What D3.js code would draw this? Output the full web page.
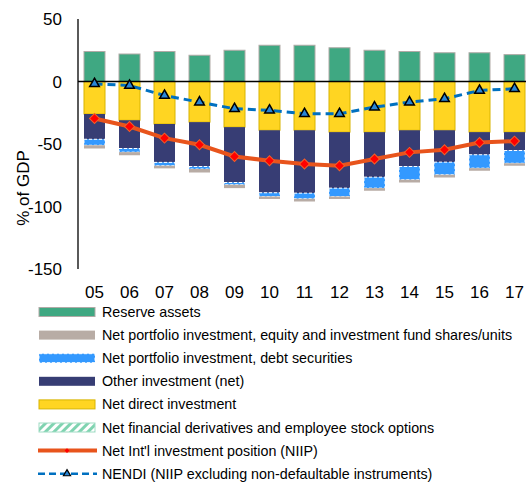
<!DOCTYPE html>
<html>
<head>
<meta charset="utf-8">
<script src="https://cdn.jsdelivr.net/npm/d3@7"></script>
<style>
  body { margin: 0; background: #fff; }
  svg { font-family: "Liberation Sans", Arial, sans-serif; }
</style>
</head>
<body>
<svg id="chart" width="526" height="486"></svg>
<script>
// years and series (% of GDP)
var years = ["05","06","07","08","09","10","11","12","13","14","15","16","17"];
var reserve = [24, 22, 24, 21, 25, 29, 29, 27, 25, 24, 23, 23, 21.5];
var direct  = [-26, -31, -34, -32.5, -36.5, -39, -39, -40.5, -40.5, -39, -39, -40.5, -40.5];
var other   = [-20.2, -22.6, -30.7, -35.5, -44.3, -50, -50.3, -44.8, -36, -29, -25.5, -18.1, -14.7];
var debt    = [-4.8, -2.9, -2.7, -2, -1.8, -3, -4.5, -6.7, -8.8, -10.6, -10.1, -10.7, -10.2];
var equity  = [-2.6, -2.5, -2.1, -2.8, -2.7, -2, -2.2, -2, -2.1, -2.2, -2.2, -2.1, -2];
var deriv   = [0, 0, 0, 0, 0, 0, 0, 0, 0, 0, 0, 0, 0];
var niip    = [-29.6, -36, -45.3, -50.6, -60, -63.4, -66, -67.4, -62, -56.7, -54.6, -48.8, -47.7];
var nendi   = [-1.8, -3.2, -11.2, -16.5, -21.8, -23, -25.8, -25.8, -20.5, -16.5, -13.8, -7.2, -5.8];
var yTicks  = [50, 0, -50, -100, -150];

var svg = d3.select('#chart');

var x = d3.scaleBand()
	.domain(years)
	.range([77, 532])
	.paddingInner(0.4)
	.paddingOuter(0.2);

var y = d3.scaleLinear()
	.domain([-150, 50])
	.range([269, 19]);

// build rows for the stack
var rows = years.map(function(yr, i){
	return {year: yr, reserve: reserve[i], direct: direct[i], other: other[i],
		debt: debt[i], equity: equity[i], deriv: deriv[i]};
});
var keys = ["reserve", "direct", "other", "debt", "equity", "deriv"];
var series = d3.stack().keys(keys).offset(d3.stackOffsetDiverging)(rows);

var fills = {reserve: "#3fa882", direct: "#ffd522", other: "#373d74", debt: "#3399ff", equity: "#b8aca5", deriv: "#8fdcbc"};
var strokes = {reserve: "#b0aaa6", direct: "#d8b400", other: "none", debt: "#ffffff", equity: "none", deriv: "none"};

// hatch pattern for derivatives
var defs = svg.append('defs');
var pat = defs.append('pattern')
	.attr('id', 'hatch')
	.attr('patternUnits', 'userSpaceOnUse')
	.attr('width', 6).attr('height', 6)
	.attr('patternTransform', 'rotate(45)');
pat.append('rect').attr('width', 6).attr('height', 6).attr('fill', '#ffffff');
pat.append('rect').attr('width', 3).attr('height', 6).attr('fill', '#7fd3b0');

// bars
svg.append('g').selectAll('g')
	.data(series)
	.enter().append('g')
	.each(function(s){
		d3.select(this).selectAll('rect')
			.data(s)
			.enter().append('rect')
			.attr('x', function(d){ return x(d.data.year); })
			.attr('width', x.bandwidth())
			.attr('y', function(d){ return y(Math.max(d[0], d[1])); })
			.attr('height', function(d){ return Math.abs(y(d[0]) - y(d[1])); })
			.attr('fill', s.key == "deriv" ? "url(#hatch)" : fills[s.key])
			.attr('stroke', strokes[s.key])
			.attr('stroke-width', 1)
			.attr('stroke-dasharray', s.key == "debt" ? "3,2" : null);
	});

// axes
svg.append('line')
	.attr('x1', 78).attr('x2', 78)
	.attr('y1', y(50)).attr('y2', y(-150))
	.attr('stroke', '#000').attr('stroke-width', 1.3);

svg.append('line')
	.attr('x1', 78).attr('x2', 526)
	.attr('y1', y(0)).attr('y2', y(0))
	.attr('stroke', '#000').attr('stroke-width', 1.5);

svg.append('g').selectAll('text')
	.data(yTicks)
	.enter().append('text')
	.attr('x', 62)
	.attr('y', function(d){ return y(d) + 6; })
	.attr('text-anchor', 'end')
	.attr('font-size', 17)
	.text(function(d){ return d; });

svg.append('g').selectAll('text')
	.data(years)
	.enter().append('text')
	.attr('x', function(d){ return x(d) + x.bandwidth() / 2; })
	.attr('y', 298)
	.attr('text-anchor', 'middle')
	.attr('font-size', 17)
	.text(function(d){ return d; });

svg.append('text')
	.attr('transform', 'translate(29,188) rotate(-90)')
	.attr('text-anchor', 'middle')
	.attr('font-size', 17)
	.text('% of GDP');

// lines
var cx = function(d, i){ return x(years[i]) + x.bandwidth() / 2; };

svg.append('path')
	.datum(nendi)
	.attr('d', d3.line().x(cx).y(function(d){ return y(d); }))
	.attr('fill', 'none')
	.attr('stroke', '#0070c0')
	.attr('stroke-width', 3)
	.attr('stroke-dasharray', '8,5');

svg.append('path')
	.datum(niip)
	.attr('d', d3.line().x(cx).y(function(d){ return y(d); }))
	.attr('fill', 'none')
	.attr('stroke', '#e8541c')
	.attr('stroke-width', 4);

var diamond = d3.symbol().type(d3.symbolSquare).size(50);
svg.append('g').selectAll('path')
	.data(niip)
	.enter().append('path')
	.attr('d', diamond)
	.attr('transform', function(d, i){ return 'translate(' + cx(d, i) + ',' + y(d) + ') rotate(45)'; })
	.attr('fill', '#ff0000')
	.attr('stroke', '#f0602a')
	.attr('stroke-width', 1);

var tri = d3.symbol().type(d3.symbolTriangle).size(40);
svg.append('g').selectAll('path')
	.data(nendi)
	.enter().append('path')
	.attr('d', tri)
	.attr('transform', function(d, i){ return 'translate(' + cx(d, i) + ',' + y(d) + ')'; })
	.attr('fill', '#2a86d6')
	.attr('stroke', '#000')
	.attr('stroke-width', 1.5);

// legend
var legendItems = [
	{label: "Reserve assets", kind: "rect", key: "reserve"},
	{label: "Net portfolio investment, equity and investment fund shares/units", kind: "rect", key: "equity"},
	{label: "Net portfolio investment, debt securities", kind: "rect", key: "debt"},
	{label: "Other investment (net)", kind: "rect", key: "other"},
	{label: "Net direct investment", kind: "rect", key: "direct"},
	{label: "Net financial derivatives and employee stock options", kind: "rect", key: "deriv"},
	{label: "Net Int'l investment position (NIIP)", kind: "niip"},
	{label: "NENDI (NIIP excluding non-defaultable instruments)", kind: "nendi"}
];

var lg = svg.append('g');
legendItems.forEach(function(item, i){
	var cy = 312 + i * 23.1;
	if (item.kind == "rect"){
		lg.append('rect')
			.attr('x', 39).attr('y', cy - 4.5)
			.attr('width', 56).attr('height', 9)
			.attr('fill', item.key == "deriv" ? "url(#hatch)" : fills[item.key])
			.attr('stroke', item.key == "deriv" ? "#9fdcc4" : strokes[item.key])
			.attr('stroke-width', 1)
			.attr('stroke-dasharray', item.key == "debt" ? "3,2" : null);
	} else if (item.kind == "niip"){
		lg.append('line')
			.attr('x1', 38).attr('x2', 97).attr('y1', cy).attr('y2', cy)
			.attr('stroke', '#e8541c').attr('stroke-width', 4);
		lg.append('path')
			.attr('d', d3.symbol().type(d3.symbolSquare).size(12))
			.attr('transform', 'translate(67,' + cy + ') rotate(45)')
			.attr('fill', '#ff0000');
	} else {
		lg.append('line')
			.attr('x1', 38).attr('x2', 97).attr('y1', cy).attr('y2', cy)
			.attr('stroke', '#0070c0').attr('stroke-width', 2.5)
			.attr('stroke-dasharray', '7,4');
		lg.append('path')
			.attr('d', d3.symbol().type(d3.symbolTriangle).size(22))
			.attr('transform', 'translate(67,' + cy + ')')
			.attr('fill', '#2a86d6')
			.attr('stroke', '#000')
			.attr('stroke-width', 1.2);
	}
	lg.append('text')
		.attr('x', 102)
		.attr('y', cy + 5)
		.attr('font-size', 14.3)
		.text(item.label);
});
</script>
</body>
</html>
